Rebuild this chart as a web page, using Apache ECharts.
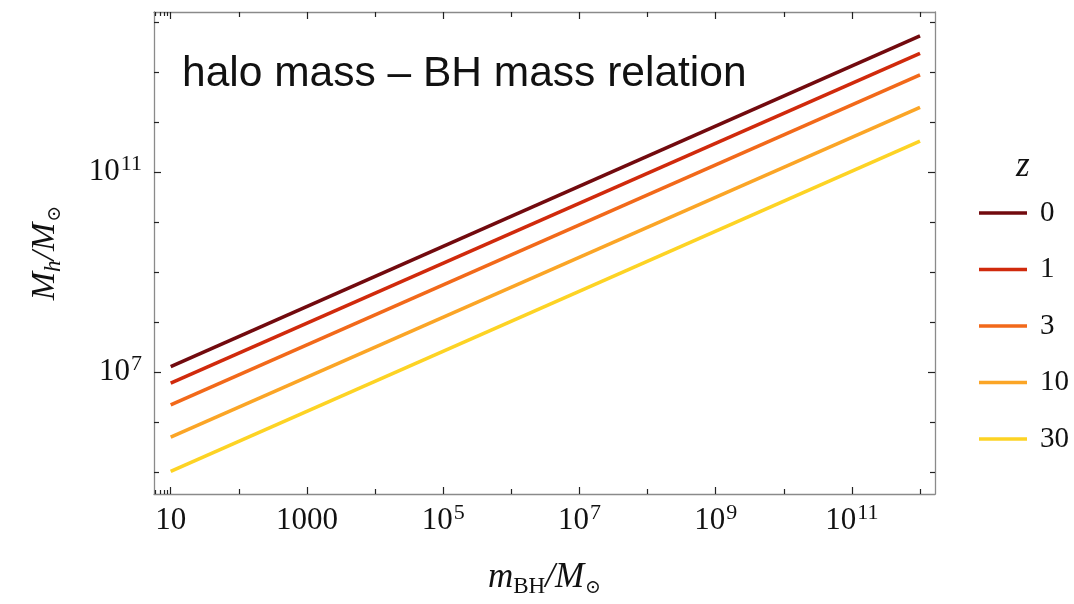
<!DOCTYPE html>
<html><head><meta charset="utf-8">
<script src="https://cdn.jsdelivr.net/npm/echarts@6/dist/echarts.min.js"></script>
<style>html,body{margin:0;padding:0;background:#fff}#c{width:1074px;height:604px}</style>
</head><body><div id="c"></div>
<script>
// ---- data ----
const redshifts = ['0', '1', '3', '10', '30'];
const bhMass = [10, 1e12];
const haloMass_z0 = [1.29e7, 5.37e13];
const haloMass_z1 = [6.0e6, 2.4e13];
const haloMass_z3 = [2.2e6, 8.9e12];
const haloMass_z10 = [5.0e5, 2.0e12];
const haloMass_z30 = [1.03e5, 4.2e11];
const lineColors = ['#720a0e', '#d02a0c', '#f2691a', '#fba526', '#fdd324'];
const xLabelTicks = [10, 1e3, 1e5, 1e7, 1e9, 1e11];
const xDecadeTicks = [100, 1e4, 1e6, 1e8, 1e10, 1e12];
const xMinorTicks = [6, 7, 8, 9];
const yLabelTicks = [1e7, 1e11];
const yDecadeTicks = [1e5, 1e6, 1e8, 1e9, 1e10, 1e12, 1e13, 1e14];

const haloSeries = [haloMass_z0, haloMass_z1, haloMass_z3, haloMass_z10, haloMass_z30];

const SERIF = '"Liberation Serif","DejaVu Serif",serif';
const xMin = Math.pow(10, 0.755), xMax = Math.pow(10, 12.22);
const yMin = Math.pow(10, 4.56), yMax = Math.pow(10, 14.21);

function powLabel(v) {
  const e = Math.round(Math.log10(v));
  if (e <= 3) return '{b|' + Math.round(v) + '}';
  return '{b|10}{s|' + e + '}';
}
const labelRich = {
  b: { fontFamily: SERIF, fontSize: 31, color: '#111', lineHeight: 34 },
  s: { fontFamily: SERIF, fontSize: 22, color: '#111', lineHeight: 22, padding: [0, 0, 14, 1], verticalAlign: 'bottom' }
};
const frameColor = '#8a8a8a';
const tickColor = '#222';

function xAx(pos, ticks, len, showLine, showLabel) {
  return {
    type: 'log', logBase: 10, min: xMin, max: xMax, position: pos,
    axisLine: { show: showLine, onZero: false, lineStyle: { color: frameColor, width: 1.3 } },
    axisTick: { show: true, inside: true, length: len, customValues: ticks, lineStyle: { color: tickColor, width: 1.2 } },
    axisLabel: showLabel ? { show: true, customValues: ticks, margin: 10, formatter: powLabel, rich: labelRich } : { show: false },
    splitLine: { show: false }, minorTick: { show: false }, minorSplitLine: { show: false },
    name: (pos === 'bottom' && showLabel) ? '{i|m}{sub|BH}{i|/M}{sub2|⊙}' : '',
    nameLocation: 'middle', nameGap: 64,
    nameTextStyle: {
      rich: {
        i: { fontFamily: SERIF, fontStyle: 'italic', fontSize: 35, color: '#111', lineHeight: 40 },
        sub: { fontFamily: SERIF, fontSize: 23, color: '#111', lineHeight: 22, verticalAlign: 'bottom' },
        sub2: { fontFamily: '"DejaVu Serif",serif', fontSize: 19, color: '#111', lineHeight: 18, verticalAlign: 'bottom', padding: [0, 0, 0, 1] }
      }
    }
  };
}
function yAx(pos, ticks, len, showLine, showLabel) {
  return {
    type: 'log', logBase: 10, min: yMin, max: yMax, position: pos,
    axisLine: { show: showLine, onZero: false, lineStyle: { color: frameColor, width: 1.3 } },
    axisTick: { show: true, inside: true, length: len, customValues: ticks, lineStyle: { color: tickColor, width: 1.2 } },
    axisLabel: showLabel ? { show: true, customValues: ticks, margin: 12, formatter: powLabel, rich: labelRich } : { show: false },
    splitLine: { show: false }, minorTick: { show: false }, minorSplitLine: { show: false },
    name: (pos === 'left' && showLabel) ? '{i|M}{sub|h}{i|/M}{sub2|⊙}' : '',
    nameLocation: 'middle', nameGap: 89, nameRotate: 90,
    nameTextStyle: {
      rich: {
        i: { fontFamily: SERIF, fontStyle: 'italic', fontSize: 34, color: '#111', lineHeight: 40 },
        sub: { fontFamily: SERIF, fontStyle: 'italic', fontSize: 23, color: '#111', lineHeight: 22, verticalAlign: 'bottom' },
        sub2: { fontFamily: '"DejaVu Serif",serif', fontSize: 19, color: '#111', lineHeight: 18, verticalAlign: 'bottom', padding: [0, 0, 0, 1] }
      }
    }
  };
}

const chart = echarts.init(document.getElementById('c'), null, { renderer: 'canvas' });
const option = {
  animation: false,
  backgroundColor: '#fff',
  grid: { left: 154, right: 139, top: 12, bottom: 110, containLabel: false },
  xAxis: [
    xAx('bottom', xLabelTicks, 7, true, true),
    xAx('bottom', xDecadeTicks, 5, false, false),
    xAx('bottom', xMinorTicks, 4, false, false),
    xAx('top', xLabelTicks, 7, true, false),
    xAx('top', xDecadeTicks, 5, false, false),
    xAx('top', xMinorTicks, 4, false, false)
  ],
  yAxis: [
    yAx('left', yLabelTicks, 7, true, true),
    yAx('left', yDecadeTicks, 5, false, false),
    yAx('right', yLabelTicks, 7, true, false),
    yAx('right', yDecadeTicks, 5, false, false)
  ],
  legend: {
    orient: 'vertical', left: 974, top: 193,
    icon: 'rect', itemWidth: 48, itemHeight: 3.5, itemGap: 26.5,
    data: redshifts.map(z => 'z = ' + z),
    formatter: name => name.replace('z = ', ''),
    textStyle: { fontFamily: SERIF, fontSize: 29, color: '#111', lineHeight: 30, padding: [0, 0, 0, 8] }
  },
  graphic: [
    { type: 'text', left: 182, top: 53, style: { text: 'halo mass – BH mass relation', font: '42.5px "Liberation Sans", Arial, sans-serif', fill: '#111' } },
    { type: 'text', left: 1016, top: 149, style: { text: 'z', font: 'italic 35px "Liberation Serif", serif', fill: '#111' } }
  ],
  series: haloSeries.map((vals, i) => ({
    name: 'z = ' + redshifts[i],
    type: 'line',
    xAxisIndex: 0, yAxisIndex: 0,
    data: bhMass.map((m, j) => [m, vals[j]]),
    symbol: 'none',
    lineStyle: { color: lineColors[i], width: 3.6 },
    itemStyle: { color: lineColors[i] },
    silent: true
  }))
};
chart.setOption(option);
</script>
</body></html>
